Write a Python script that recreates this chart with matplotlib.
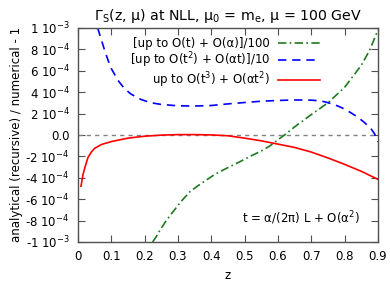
import matplotlib
matplotlib.use("Agg")
import matplotlib.pyplot as plt

plt.rcParams["font.family"] = "DejaVu Sans"
plt.rcParams["mathtext.default"] = "regular"
plt.rcParams["font.size"] = 8.5

# values in units of 1e-4
z_red = [0.009, 0.015, 0.022, 0.03, 0.04, 0.05, 0.07, 0.1, 0.15, 0.2, 0.25, 0.3,
         0.35, 0.4, 0.45, 0.5, 0.55, 0.6, 0.65, 0.7, 0.75, 0.8, 0.85, 0.9]
y_red = [-4.8, -3.7, -2.9, -2.1, -1.6, -1.25, -0.9, -0.62, -0.3, -0.12, -0.02, 0.03,
         0.03, 0.0, -0.08, -0.3, -0.55, -0.86, -1.17, -1.6, -2.15, -2.75, -3.4, -4.15]

z_blue = [0.059, 0.07, 0.08, 0.09, 0.1, 0.12, 0.14, 0.16, 0.19, 0.22, 0.25, 0.3, 0.35,
          0.4, 0.45, 0.5, 0.55, 0.6, 0.65, 0.7, 0.72, 0.74, 0.76, 0.78, 0.8, 0.82,
          0.84, 0.86, 0.88, 0.89, 0.9]
y_blue = [10.0, 8.9, 7.9, 7.0, 6.2, 5.1, 4.3, 3.8, 3.3, 3.0, 2.85, 2.72, 2.7,
          2.75, 2.9, 3.03, 3.15, 3.22, 3.27, 3.25, 3.2, 3.1, 2.92, 2.7, 2.42, 2.05,
          1.65, 1.15, 0.55, 0.1, -0.65]

z_green = [0.224, 0.235, 0.246, 0.265, 0.286, 0.31, 0.336, 0.36, 0.386, 0.41, 0.436,
           0.46, 0.486, 0.52, 0.55, 0.575, 0.6, 0.62, 0.65, 0.7, 0.75, 0.8, 0.85,
           0.875, 0.9]
y_green = [-10.0, -9.5, -8.9, -8.0, -7.15, -6.2, -5.3, -4.75, -4.2, -3.7, -3.27,
           -2.9, -2.5, -1.95, -1.5, -1.05, -0.45, 0.0, 0.75, 1.9, 3.0, 4.45, 6.5,
           7.9, 9.8]

labels = ["[up to O(t) + O(α)]/100",
          "[up to O(t$^2$) + O(αt)]/10",
          "up to O(t$^3$) + O(αt$^2$)"]

ytick_vals = [-10, -8, -6, -4, -2, 0, 2, 4, 6, 8, 10]
ytick_labels = ["-1 10$^{-3}$", "-8 10$^{-4}$", "-6 10$^{-4}$", "-4 10$^{-4}$",
                "-2 10$^{-4}$", "0.0", "2 10$^{-4}$", "4 10$^{-4}$", "6 10$^{-4}$",
                "8 10$^{-4}$", "1 10$^{-3}$"]
xtick_vals = [0, 0.1, 0.2, 0.3, 0.4, 0.5, 0.6, 0.7, 0.8, 0.9]
xtick_labels = ["0", "0.1", "0.2", "0.3", "0.4", "0.5", "0.6", "0.7", "0.8", "0.9"]

fig = plt.figure(figsize=(3.9, 2.88), dpi=100)
ax = fig.add_axes([0.2, 0.16, 0.769, 0.743])

frame = "#505050"
ax.axhline(0, color="#808080", lw=1.0, dashes=(3, 3))
ax.plot(z_green, y_green, color="#1e7a1e", lw=1.2, dashes=(5, 2, 1, 2), label=labels[0])
ax.plot(z_blue, y_blue, color="#0000ff", lw=1.2, dashes=(5, 3.5), label=labels[1])
ax.plot(z_red, y_red, color="#ff0000", lw=1.2, label=labels[2])

ax.set_xlim(0, 0.9)
ax.set_ylim(-10, 10)
ax.set_xticks(xtick_vals)
ax.set_xticklabels(xtick_labels)
ax.set_yticks(ytick_vals)
ax.set_yticklabels(ytick_labels)
ax.tick_params(direction="in", top=True, right=True, length=5, width=0.8,
               color=frame, pad=6)
for s in ax.spines.values():
    s.set_color(frame)
    s.set_linewidth(1.0)

ax.set_xlabel("z", labelpad=4)
ax.set_ylabel("analytical (recursive) / numerical - 1", labelpad=2)
ax.set_title("Γ$_S$(z, μ) at NLL, μ$_0$ = m$_e$, μ = 100 GeV", pad=6)

ax.legend(loc="upper right", markerfirst=False, frameon=False, handlelength=3.6,
          handletextpad=0.7, labelspacing=0.0, borderaxespad=0.4,
          bbox_to_anchor=(0.84, 1.0))
ax.text(0.94, 0.11, "t = α/(2π) L + O(α$^2$)", transform=ax.transAxes,
        ha="right", va="center")

fig.savefig("out.png", dpi=100)
